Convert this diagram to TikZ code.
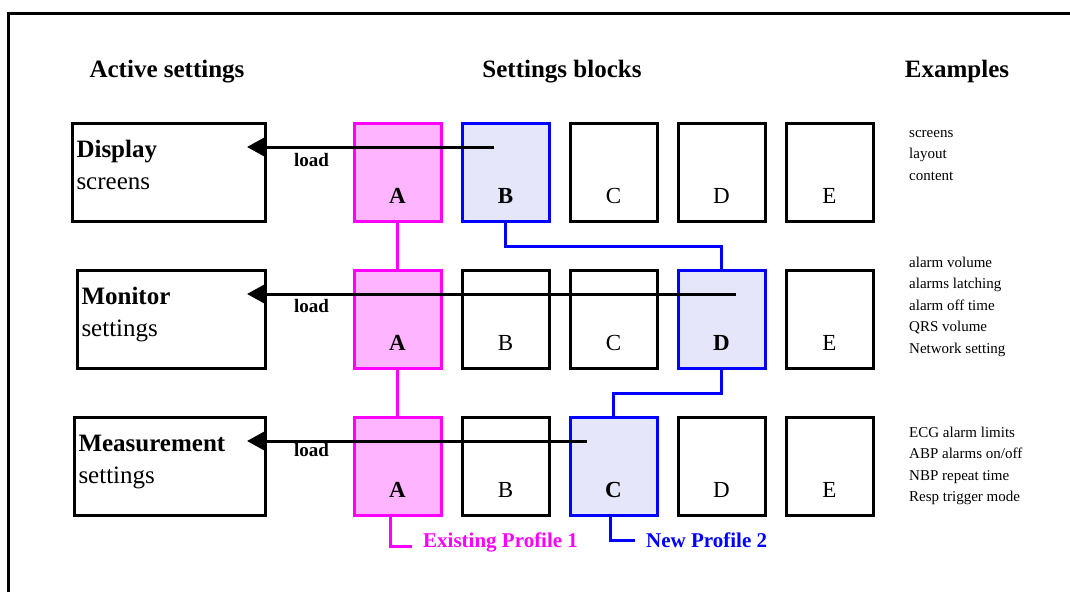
\documentclass[tikz,border=0pt]{standalone}
\usepackage{fontspec}
\setmainfont{Liberation Serif}
\usetikzlibrary{arrows.meta, positioning}

\definecolor{profpink}{RGB}{255,0,255}
\definecolor{pinkfill}{RGB}{255,180,255}
\definecolor{profblue}{RGB}{0,0,255}
\definecolor{bluefill}{RGB}{230,230,250}

\begin{document}
\begin{tikzpicture}[x=1pt, y=-1pt, node distance=108pt, on grid,
	blk/.style = {draw, line width=3pt, minimum width=87pt, minimum height=98pt,
		inner sep=0pt, text height=67pt, text depth=5pt, font=\fontsize{23}{28}\selectfont},
	pblk/.style = {blk, draw=profpink, fill=pinkfill, font=\fontsize{23}{28}\selectfont\bfseries},
	bblk/.style = {blk, draw=profblue, fill=bluefill, font=\fontsize{23}{28}\selectfont\bfseries},
	act/.style = {draw, line width=3pt, minimum height=98pt, inner xsep=4pt, inner ysep=0pt,
		align=left, text height=20pt, text depth=50pt, font=\fontsize{25}{32}\selectfont, anchor=east},
	hdr/.style = {font=\fontsize{25}{30}\selectfont\bfseries, anchor=base},
	ex/.style = {font=\fontsize{15}{18}\selectfont, anchor=base west, inner sep=0pt},
	ld/.style = {font=\fontsize{19}{22}\selectfont\bfseries, anchor=base west, inner sep=0pt},
	prof/.style = {font=\fontsize{21}{25}\selectfont\bfseries, anchor=base west, inner sep=0pt},
	loadarrow/.style = {line width=3pt, -{Triangle[length=18pt, width=19pt]}},
	pline/.style = {draw=profpink, line width=3pt},
	bline/.style = {draw=profblue, line width=3pt}]
	\useasboundingbox (0,0) rectangle (1070,592);
	% frame
	\draw[line width=2.5pt] (8.5,592) |- (1070,13.5);

	% headings
	\node[hdr] (hact) at (167,77) {Active settings};
	\node[hdr] (hblk) at (562,77) {Settings blocks};
	\node[hdr] (hexa) at (957,77) {Examples};

	% active settings
	\node[act, minimum width=193pt, text width=185pt] (disp) at (267,172) {\textbf{Display}\\screens};
	\node[act, minimum width=188pt, text width=180pt] (moni) at (267,319) {\textbf{Monitor}\\settings};
	\node[act, minimum width=191pt, text width=183pt] (meas) at (267,466) {\textbf{Measurement}\\settings};

	% settings blocks
	\node[pblk] (a1) at (397.5,172) {A};
	\node[bblk] (b1) [right=of a1] {B};
	\node[blk] (c1) [right=of b1] {C};
	\node[blk] (d1) [right=of c1] {D};
	\node[blk] (e1) [right=of d1] {E};
	\node[pblk] (a2) [below=147pt of a1] {A};
	\node[blk] (b2) [right=of a2] {B};
	\node[blk] (c2) [right=of b2] {C};
	\node[bblk] (d2) [right=of c2] {D};
	\node[blk] (e2) [right=of d2] {E};
	\node[pblk] (a3) [below=147pt of a2] {A};
	\node[blk] (b3) [right=of a3] {B};
	\node[bblk] (c3) [right=of b3] {C};
	\node[blk] (d3) [right=of c3] {D};
	\node[blk] (e3) [right=of d3] {E};

	% profiles
	\node[prof, text=profpink] (p1) at (423,547) {Existing Profile 1};
	\node[prof, text=profblue] (p2) at (646,547) {New Profile 2};
	\draw[pline] (a1.south) -- (a2.north);
	\draw[pline] (a2.south) -- (a3.north);
	\draw[pline] ([xshift=-7.5pt]a3.south) |- ([xshift=-11pt,yshift=1pt]p1.base west);
	\draw[bline] (b1.south) -- ++(0,24) -| (d2.north);
	\draw[bline] (d2.south) -- ++(0,24) -| (c3.north);
	\draw[bline] ([xshift=-3.5pt]c3.south) |- ([xshift=-11pt,yshift=7pt]p2.base west);

	% loading
	\coordinate (s1) at ([xshift=-12pt,yshift=25pt]b1.center);
	\coordinate (s2) at ([xshift=14.5pt,yshift=25pt]d2.center);
	\coordinate (s3) at ([xshift=-26.5pt,yshift=25pt]c3.center);
	\draw[loadarrow] (s1) -- ([xshift=-20pt]disp.east |- s1);
	\draw[loadarrow] (s2) -- ([xshift=-20pt]moni.east |- s2);
	\draw[loadarrow] (s3) -- ([xshift=-20pt]meas.east |- s3);
	\node[ld] (ld1) at (294,166) {load};
	\node[ld] (ld2) at (294,312) {load};
	\node[ld] (ld3) at (294,456) {load};

	% examples
	\foreach \t [count=\i] in {screens, layout, content}
		\node[ex] (exd\i) at (909,{137+21.5*(\i-1)}) {\t};
	\foreach \t [count=\i] in {alarm volume, alarms latching, alarm off time, QRS volume, Network setting}
		\node[ex] (exm\i) at (909,{267+21.5*(\i-1)}) {\t};
	\foreach \t [count=\i] in {ECG alarm limits, ABP alarms on/off, NBP repeat time, Resp trigger mode}
		\node[ex] (exs\i) at (909,{437+21.5*(\i-1)}) {\t};
\end{tikzpicture}
\end{document}
